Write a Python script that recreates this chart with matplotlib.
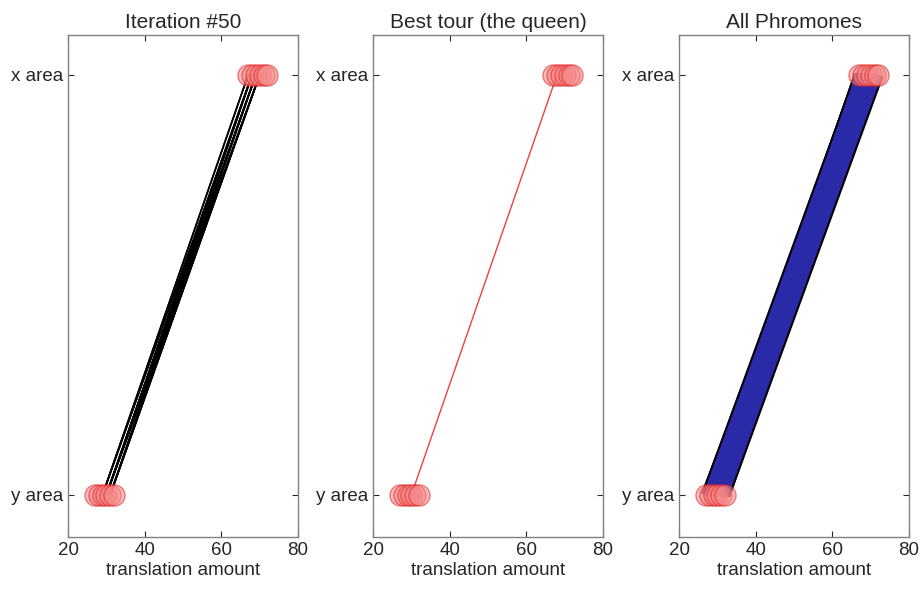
import matplotlib.pyplot as plt

# translation amounts of the candidate nodes
x_area = [67, 68, 69, 70, 71, 72]
y_area = [27, 28, 29, 30, 31, 32]

# ant tours of iteration 50: (y node, x node)
ants_y = [30, 31, 30, 31, 29, 30, 30, 31, 29, 31, 30, 30, 29, 30, 31, 30, 29, 31, 30, 30]
ants_x = [68, 69, 68, 70, 67, 68, 69, 70, 68, 69, 70, 68, 67, 69, 68, 70, 68, 70, 69, 69]

# best tour
best_y = 30
best_x = 68

# pheromone level on each edge, rows = y nodes, cols = x nodes
pheromone = [
    [0.6, 0.7, 0.6, 0.5, 0.5, 0.4],
    [0.7, 0.8, 0.7, 0.6, 0.5, 0.5],
    [0.8, 0.9, 0.8, 0.7, 0.6, 0.5],
    [0.8, 1.0, 0.9, 0.8, 0.7, 0.6],
    [0.7, 0.8, 0.8, 0.9, 0.8, 0.7],
    [0.5, 0.6, 0.6, 0.7, 0.8, 0.8],
]

titles = ['Iteration #50', 'Best tour (the queen)', 'All Phromones']

plt.rcParams['font.family'] = ['Liberation Sans', 'DejaVu Sans']
fig = plt.figure(figsize=(9.23, 5.9), dpi=100)

lefts = [68 / 923, 373 / 923, 679 / 923]
w = 230 / 923
b = 1 - 537 / 590
h = (537 - 35) / 590
axes = [fig.add_axes([l, b, w, h]) for l in lefts]


def draw_nodes(ax):
    ax.scatter(x_area, [2] * len(x_area), s=230, facecolor='#f58888', alpha=0.55,
               edgecolor='#e02020', linewidth=1.0, zorder=5)
    ax.scatter(y_area, [1] * len(y_area), s=230, facecolor='#f58888', alpha=0.55,
               edgecolor='#e02020', linewidth=1.0, zorder=5)


# panel 1: ant tours
ax = axes[0]
for yv, xv in zip(ants_y, ants_x):
    ax.plot([yv, xv], [1, 2], color='black', lw=1.2)
draw_nodes(ax)

# panel 2: best tour
ax = axes[1]
ax.plot([best_y, best_x], [1, 2], color='#f04040', lw=1.0)
draw_nodes(ax)

# panel 3: pheromones, black outline pass first then blue pass
ax = axes[2]
for i, yv in enumerate(y_area):
    for j, xv in enumerate(x_area):
        ax.plot([yv, xv], [1, 2], color='black', lw=6 * pheromone[i][j] + 3,
                solid_capstyle='butt', zorder=2)
for i, yv in enumerate(y_area):
    for j, xv in enumerate(x_area):
        ax.plot([yv, xv], [1, 2], color='#2a2aa8', lw=6 * pheromone[i][j],
                solid_capstyle='butt', zorder=3)
draw_nodes(ax)

for ax, t in zip(axes, titles):
    ax.set_xlim(20, 80)
    ax.set_ylim(0.9, 2.095)
    ax.set_xticks([20, 40, 60, 80])
    ax.set_yticks([1, 2])
    ax.set_yticklabels(['y area', 'x area'])
    ax.set_xlabel('translation amount', fontsize=13.5, color='#262626', labelpad=2)
    ax.set_title(t, fontsize=15, color='#262626', pad=5)
    ax.tick_params(direction='in', top=True, right=True, labelsize=13.5,
                   colors='#262626', length=4, width=0.8)
    for s in ax.spines.values():
        s.set_color('#808080')
        s.set_linewidth(1.0)

fig.savefig('out.png', dpi=100)
